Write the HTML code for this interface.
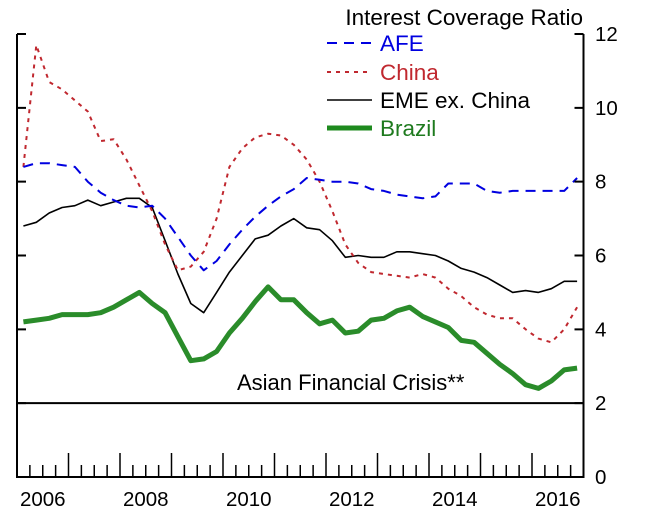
<!DOCTYPE html>
<html><head><meta charset="utf-8"><style>
body{margin:0;background:#fff}
svg{display:block;font-family:"Liberation Sans",Arial,sans-serif}
</style></head><body>
<svg id="c" width="648" height="511" viewBox="0 0 648 511">
<text x="583" y="25" font-size="22.5" text-anchor="end">Interest Coverage Ratio</text>
<g>
<line x1="327" y1="43" x2="372" y2="43" stroke="#0000e0" stroke-width="2" stroke-dasharray="10,7"/>
<text x="380" y="51" font-size="22.5" fill="#0000e0">AFE</text>
<line x1="327" y1="72" x2="372" y2="72" stroke="#c0282f" stroke-width="2" stroke-dasharray="4,5"/>
<text x="380" y="80" font-size="22.5" fill="#c0282f">China</text>
<line x1="327" y1="100" x2="372" y2="100" stroke="#000" stroke-width="1.6"/>
<text x="380" y="108" font-size="22.5">EME ex. China</text>
<line x1="327" y1="128" x2="372" y2="128" stroke="#1e8a1e" stroke-width="5"/>
<text x="380" y="136" font-size="22.5" fill="#1e7a1e">Brazil</text>
</g>
<text x="237" y="390" font-size="22">Asian Financial Crisis**</text>
</svg>
<script>
const afe=[8.4,8.5,8.5,8.45,8.4,8.0,7.7,7.5,7.35,7.3,7.35,7.0,6.5,6.0,5.6,5.85,6.3,6.7,7.05,7.35,7.6,7.8,8.1,8.05,8.0,8.0,7.95,7.8,7.75,7.65,7.6,7.55,7.6,7.95,7.95,7.95,7.75,7.7,7.75,7.75,7.75,7.75,7.75,8.1];
const china=[8.4,11.7,10.7,10.5,10.2,9.9,9.1,9.15,8.6,7.9,7.2,6.3,5.6,5.7,6.1,7.0,8.4,8.9,9.2,9.3,9.25,9.0,8.6,8.0,7.2,6.3,5.8,5.55,5.5,5.45,5.4,5.5,5.4,5.1,4.9,4.6,4.4,4.3,4.3,4.0,3.75,3.65,4.0,4.6];
const eme=[6.8,6.9,7.15,7.3,7.35,7.5,7.35,7.45,7.55,7.55,7.3,6.4,5.5,4.7,4.45,5.0,5.55,6.0,6.45,6.55,6.8,7.0,6.75,6.7,6.4,5.95,6.0,5.95,5.95,6.1,6.1,6.05,6.0,5.85,5.65,5.55,5.4,5.2,5.0,5.05,5.0,5.1,5.3,5.3];
const brazil=[4.2,4.25,4.3,4.4,4.4,4.4,4.45,4.6,4.8,5.0,4.7,4.45,3.8,3.15,3.2,3.4,3.9,4.3,4.75,5.15,4.8,4.8,4.45,4.15,4.25,3.9,3.95,4.25,4.3,4.5,4.6,4.35,4.2,4.05,3.7,3.65,3.35,3.05,2.8,2.5,2.4,2.6,2.9,2.95];
const yTicks=[0,2,4,6,8,10,12];
const xLabels=[2006,2008,2010,2012,2014,2016];
const refLine=2;
const startYear=2006.125;
const L=17,R=583.5,B=477,T=34;
const x=t=>L+(t-2006)*(R-L)/11;
const y=v=>B-(v/12)*(B-T);
const svg=document.getElementById('c');
const NS='http://www.w3.org/2000/svg';
function mk(tag,attrs){const e=document.createElementNS(NS,tag);for(const k in attrs)e.setAttribute(k,attrs[k]);svg.insertBefore(e,svg.firstChild.nextSibling);return e;}
let e=mk('path',{d:`M${L},${T}V${B}H${R}V${T}`,fill:'none',stroke:'#000','stroke-width':2});


yTicks.forEach(v=>{
  const t=mk('path',{d:`M${L},${y(v)}h9M${R},${y(v)}h-9`,stroke:'#000','stroke-width':2});
  
  
  const lb=mk('text',{x:595,y:y(v)+7,'font-size':20.5});
  lb.textContent=v;
  
  
});
for(let i=0;i<=44;i++){
  const t=2006+i*0.25;
  const len=i%4===0?24:12;
  const tk=mk('line',{x1:x(t),x2:x(t),y1:B,y2:B-len,stroke:'#000','stroke-width':1.5});
  
  
}
xLabels.forEach(yr=>{
  const lb=mk('text',{x:x(yr+0.5),y:506,'font-size':20.5,'text-anchor':'middle'});
  lb.textContent=yr;
  
  
});
const rl=mk('line',{x1:L,x2:R,y1:y(refLine),y2:y(refLine),stroke:'#000','stroke-width':2});


function series(arr,attrs,name){
  const d=arr.map((v,i)=>(i?'L':'M')+x(startYear+i*0.25).toFixed(1)+','+y(v).toFixed(1)).join('');
  const p=mk('path',Object.assign({d:d,fill:'none','stroke-linejoin':'round'},attrs));
  
  
}
series(afe,{stroke:'#0000e0','stroke-width':2,'stroke-dasharray':'10,7'},'afe-line');
series(china,{stroke:'#c0282f','stroke-width':2,'stroke-dasharray':'4,5'},'china-line');
series(eme,{stroke:'#000','stroke-width':1.6},'eme-ex-china-line');
series(brazil,{stroke:'#2a8c2a','stroke-width':5},'brazil-line');
</script>
</body></html>
